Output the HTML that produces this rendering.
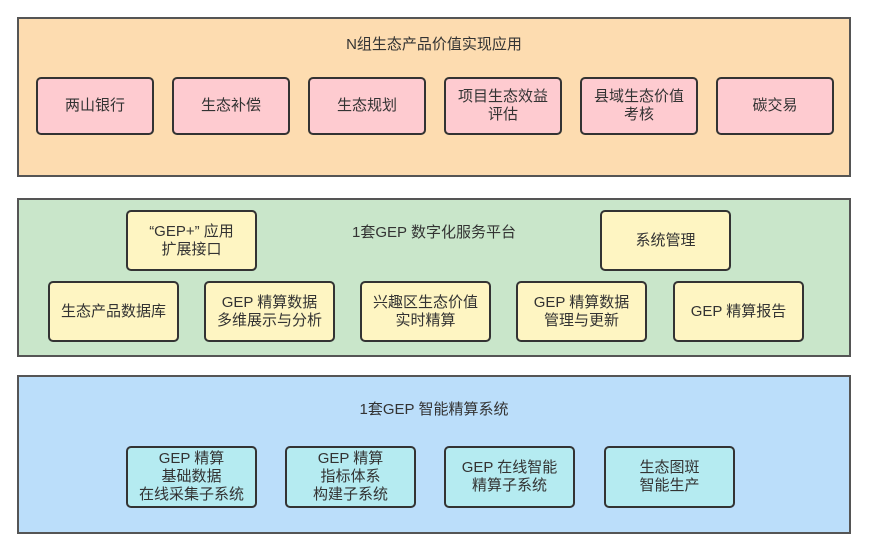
<!DOCTYPE html><html><head><meta charset="utf-8"><style>
body{margin:0;width:869px;height:552px;background:#fff;position:relative;overflow:hidden;font-family:"Liberation Sans","Noto Sans CJK SC",sans-serif;color:#333;}
.p{position:absolute;border:2px solid #555;box-sizing:border-box;}
.b{position:absolute;border:2px solid #333;border-radius:5px;box-sizing:border-box;display:flex;align-items:center;justify-content:center;text-align:center;font-size:15px;line-height:18px;}
.t{position:absolute;font-size:15px;transform:translateX(-50%);white-space:nowrap;}
.pk{background:#fecbd0;}.y{background:#fef5c2;}.c{background:#b5ebf1;}
</style></head><body>
<div class="p" style="left:17px;top:17px;width:834px;height:160px;background:#fddcb0"></div>
<div class="t" style="left:434px;top:33px">N组生态产品价值实现应用</div>
<div class="b pk" style="left:36px;top:77px;width:118px;height:58px">两山银行</div>
<div class="b pk" style="left:172px;top:77px;width:118px;height:58px">生态补偿</div>
<div class="b pk" style="left:308px;top:77px;width:118px;height:58px">生态规划</div>
<div class="b pk" style="left:444px;top:77px;width:118px;height:58px">项目生态效益<br>评估</div>
<div class="b pk" style="left:580px;top:77px;width:118px;height:58px">县域生态价值<br>考核</div>
<div class="b pk" style="left:716px;top:77px;width:118px;height:58px">碳交易</div>

<div class="p" style="left:17px;top:198px;width:834px;height:159px;background:#c9e6ca"></div>
<div class="t" style="left:434px;top:221px">1套GEP 数字化服务平台</div>
<div class="b y" style="left:126px;top:210px;width:131px;height:61px">“GEP+” 应用<br>扩展接口</div>
<div class="b y" style="left:600px;top:210px;width:131px;height:61px">系统管理</div>
<div class="b y" style="left:48px;top:281px;width:131px;height:61px">生态产品数据库</div>
<div class="b y" style="left:204px;top:281px;width:131px;height:61px">GEP 精算数据<br>多维展示与分析</div>
<div class="b y" style="left:360px;top:281px;width:131px;height:61px">兴趣区生态价值<br>实时精算</div>
<div class="b y" style="left:516px;top:281px;width:131px;height:61px">GEP 精算数据<br>管理与更新</div>
<div class="b y" style="left:673px;top:281px;width:131px;height:61px">GEP 精算报告</div>

<div class="p" style="left:17px;top:375px;width:834px;height:159px;background:#bbdefa"></div>
<div class="t" style="left:434px;top:398px">1套GEP 智能精算系统</div>
<div class="b c" style="left:126px;top:446px;width:131px;height:62px">GEP 精算<br>基础数据<br>在线采集子系统</div>
<div class="b c" style="left:285px;top:446px;width:131px;height:62px">GEP 精算<br>指标体系<br>构建子系统</div>
<div class="b c" style="left:444px;top:446px;width:131px;height:62px">GEP 在线智能<br>精算子系统</div>
<div class="b c" style="left:604px;top:446px;width:131px;height:62px">生态图斑<br>智能生产</div>
</body></html>
